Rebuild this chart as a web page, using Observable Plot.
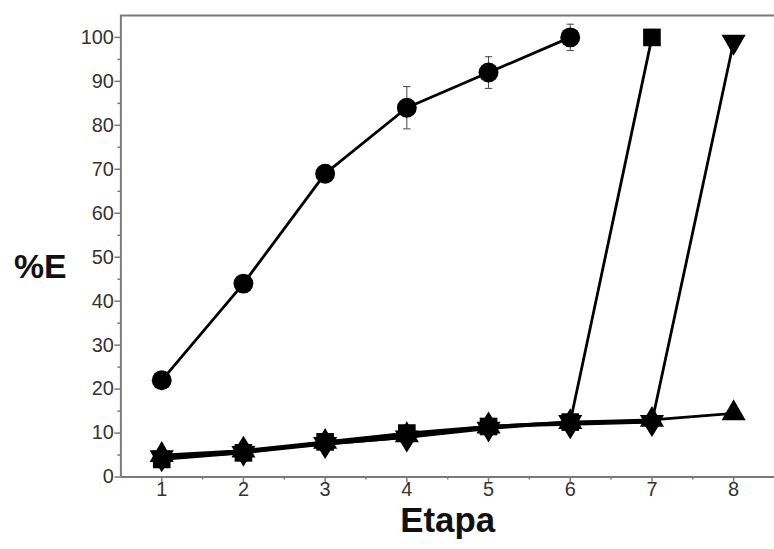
<!DOCTYPE html>
<html>
<head>
<meta charset="utf-8">
<script src="https://cdn.jsdelivr.net/npm/d3@7"></script>
<script src="https://cdn.jsdelivr.net/npm/@observablehq/plot@0.6"></script>
<style>
  html, body { margin: 0; padding: 0; background: #fff; overflow: hidden; }
  #chart svg { display: block; }
</style>
</head>
<body>
<div id="chart"></div>
<script>
const etapa = [1, 2, 3, 4, 5, 6, 7, 8];
const circleVals = [22, 44, 69, 84, 92, 100];
const circleErr = [1, 1, 2, 4.8, 3.6, 3];
const squareVals = [4, 5.5, 8, 10, 11.5, 12.5, 100];
const downTriVals = [4.5, 5.5, 7.5, 9, 11, 12.5, 12.5, 99];
const upTriVals = [5, 6, 8, 9.5, 11.5, 12.5, 13, 14.5];
const diamondVals = [4.5, 6, 7.5, 9, 11.5, 12, 12.5];
const xTicks = [1, 2, 3, 4, 5, 6, 7, 8];
const xMinor = [1.5, 2.5, 3.5, 4.5, 5.5, 6.5, 7.5];
const yTicks = [0, 10, 20, 30, 40, 50, 60, 70, 80, 90, 100];
const yMinor = [5, 15, 25, 35, 45, 55, 65, 75, 85, 95];

const mk = (vals, name) => vals.map((v, i) => ({x: etapa[i], y: v, s: name}));
const circles = circleVals.map((v, i) => ({x: etapa[i], y: v, e: circleErr[i]}));
const squares = mk(squareVals, "square");
const downs = mk(downTriVals, "down");
const ups = mk(upTriVals, "up");
const diamonds = mk(diamondVals, "diamond");

const triangleDown = {
  draw(context, size) {
    const y = -Math.sqrt(size / (Math.sqrt(3) * 3));
    const x = Math.sqrt(size / Math.sqrt(3));
    context.moveTo(0, -y * 2);
    context.lineTo(-x, y);
    context.lineTo(x, y);
    context.closePath();
  }
};
const diamondTall = {
  draw(context, size) {
    const h = Math.sqrt(size) * 0.85;
    const w = h * 0.62;
    context.moveTo(0, -h);
    context.lineTo(w, 0);
    context.lineTo(0, h);
    context.lineTo(-w, 0);
    context.closePath();
  }
};

const axisColor = "#7a7a7a";
const labelColor = "#333";
const tickFont = "'Liberation Sans Narrow', 'Liberation Sans', Arial, sans-serif";

const chart = Plot.plot({
  width: 778,
  height: 549,
  marginLeft: 121,
  marginRight: 0,
  marginTop: 15,
  marginBottom: 70,
  style: {fontFamily: "Liberation Sans, Arial, sans-serif", background: "#fff"},
  x: {domain: [0.5, 8.5]},
  y: {domain: [0, 105]},
  marks: [
    Plot.axisX({ticks: xTicks, tickSize: 6, stroke: axisColor, strokeWidth: 1.5, text: null, label: null}),
    Plot.axisX({ticks: xMinor, tickSize: 3, stroke: axisColor, strokeWidth: 1.5, text: null, label: null}),
    Plot.axisY({ticks: yTicks, tickSize: 6, stroke: axisColor, strokeWidth: 1.5, text: null, label: null}),
    Plot.axisY({ticks: yMinor, tickSize: 3, stroke: axisColor, strokeWidth: 1.5, text: null, label: null}),
    Plot.text(xTicks, {x: d => d, frameAnchor: "bottom", dy: 19, text: d => String(d), fontSize: 20, fontFamily: tickFont, fill: labelColor, textAnchor: "middle"}),
    Plot.text(yTicks, {y: d => d, frameAnchor: "left", dx: -7, text: d => String(d), fontSize: 20, fontFamily: tickFont, fill: labelColor, textAnchor: "end"}),
    Plot.ruleX([0.5], {stroke: axisColor, strokeWidth: 2}),
    Plot.ruleY([0], {stroke: axisColor, strokeWidth: 2}),
    Plot.ruleY([105], {stroke: axisColor, strokeWidth: 2}),
    // error bars
    Plot.ruleX(circles, {x: "x", y1: d => d.y - d.e, y2: d => d.y + d.e, stroke: "#444", strokeWidth: 1}),
    Plot.link(circles, {x1: d => d.x - 0.045, x2: d => d.x + 0.045, y1: d => d.y + d.e, y2: d => d.y + d.e, stroke: "#444", strokeWidth: 1}),
    Plot.link(circles, {x1: d => d.x - 0.045, x2: d => d.x + 0.045, y1: d => d.y - d.e, y2: d => d.y - d.e, stroke: "#444", strokeWidth: 1}),
    // lines
    Plot.line(circles, {x: "x", y: "y", stroke: "#000", strokeWidth: 2.8}),
    Plot.line(squares, {x: "x", y: "y", stroke: "#000", strokeWidth: 2.8}),
    Plot.line(downs, {x: "x", y: "y", stroke: "#000", strokeWidth: 2.8}),
    Plot.line(ups, {x: "x", y: "y", stroke: "#000", strokeWidth: 2.8}),
    Plot.line(diamonds, {x: "x", y: "y", stroke: "#000", strokeWidth: 2.8}),
    // markers
    Plot.dot(diamonds, {x: "x", y: "y", r: 10, symbol: diamondTall, fill: "#000"}),
    Plot.dot(ups, {x: "x", y: "y", r: 9, symbol: "triangle", fill: "#000"}),
    Plot.dot(downs, {x: "x", y: "y", r: 9, symbol: triangleDown, fill: "#000"}),
    Plot.dot(squares, {x: "x", y: "y", r: 10, symbol: "square", fill: "#000"}),
    Plot.dot(circles, {x: "x", y: "y", r: 10, symbol: "circle", fill: "#000"}),
    // axis titles
    Plot.text(["%E"], {frameAnchor: "left", dx: -81, dy: 21, fontSize: 34, fontWeight: "bold", fill: "#111", textAnchor: "middle"}),
    Plot.text(["Etapa"], {frameAnchor: "bottom", dy: 55, fontSize: 35, fontWeight: "bold", fill: "#111", textAnchor: "middle"})
  ]
});
document.getElementById("chart").appendChild(chart);
</script>
</body>
</html>
